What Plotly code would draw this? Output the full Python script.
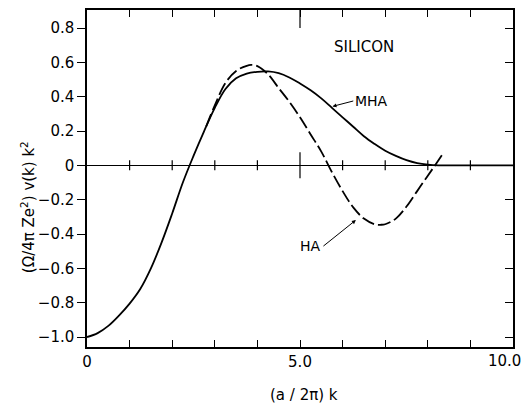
import plotly.graph_objects as go

# Model pseudopotential form factor for silicon, (Ω/4πZe²) v(k) k²
mha_k = [0.0, 0.25, 0.5, 0.75, 1.0, 1.25, 1.5, 1.75, 2.0, 2.25, 2.5, 2.75, 3.0,
         3.25, 3.5, 3.75, 4.0, 4.25, 4.5, 4.75, 5.0, 5.25, 5.5, 5.75, 6.0, 6.25,
         6.5, 6.75, 7.0, 7.25, 7.5, 7.75, 8.0, 8.25, 8.5, 9.0, 9.5, 10.0]
mha_v = [-1.0, -0.977, -0.935, -0.875, -0.805, -0.72, -0.60, -0.45, -0.28, -0.1,
         0.055, 0.2, 0.335, 0.445, 0.507, 0.535, 0.545, 0.547, 0.537, 0.512, 0.477,
         0.437, 0.39, 0.335, 0.28, 0.225, 0.17, 0.125, 0.085, 0.055, 0.03, 0.013,
         0.004, 0.0, 0.0, 0.0, 0.0, 0.0]

ha_k = [2.8, 3.0, 3.25, 3.5, 3.75, 3.85, 4.0, 4.25, 4.5, 4.75, 5.0, 5.25, 5.5,
        5.75, 6.0, 6.25, 6.5, 6.75, 6.9, 7.0, 7.25, 7.5, 7.75, 8.0, 8.17, 8.36]
ha_v = [0.228, 0.35, 0.48, 0.55, 0.58, 0.585, 0.578, 0.53, 0.45, 0.37, 0.28,
        0.18, 0.08, -0.04, -0.15, -0.245, -0.31, -0.343, -0.346, -0.343, -0.31,
        -0.24, -0.15, -0.06, 0.0, 0.07]

x_ticks = list(range(0, 11))
x_labels = ["0", "", "", "", "", "5.0", "", "", "", "", ""]
x_end_label = "10.0"
y_ticks = [-1.0, -0.8, -0.6, -0.4, -0.2, 0.0, 0.2, 0.4, 0.6, 0.8]
y_labels = ["\u22121.0", "\u22120.8", "\u22120.6", "\u22120.4", "\u22120.2",
            "0", "0.2", "0.4", "0.6", "0.8"]

x_range = [0, 10]
y_range = [-1.058, 0.905]

FONT = "DejaVu Sans"
INK = "black"

fig = go.Figure()
fig.add_trace(go.Scatter(x=mha_k, y=mha_v, mode="lines", name="MHA",
                         line=dict(color=INK, width=1.8, shape="spline", smoothing=1.0)))
fig.add_trace(go.Scatter(x=ha_k, y=ha_v, mode="lines", name="HA",
                         line=dict(color=INK, width=1.8, dash="13px,4px",
                                   shape="spline", smoothing=1.0)))
# invisible trace to carry the right-hand axis
fig.add_trace(go.Scatter(x=[x_range[0]], y=[y_range[0]], yaxis="y2", mode="markers",
                         marker=dict(opacity=0), hoverinfo="skip", showlegend=False))

fig.update_layout(
    width=523, height=404,
    margin=dict(l=87, r=10, t=10, b=57, autoexpand=False),
    paper_bgcolor="white", plot_bgcolor="white",
    showlegend=False,
    font=dict(family=FONT, size=15, color=INK),
    xaxis=dict(range=x_range, tickvals=x_ticks, ticktext=x_labels,
               ticks="inside", ticklen=7, tickwidth=1.2, tickcolor=INK,
               showline=True, linecolor=INK, linewidth=1.5, mirror="ticks",
               showgrid=False, zeroline=False, tickfont=dict(size=15),
               automargin=False),
    yaxis=dict(range=y_range, tickvals=y_ticks, ticktext=y_labels,
               ticks="outside", ticklen=8, tickwidth=1.2, tickcolor=INK,
               showline=True, linecolor=INK, linewidth=1.5, mirror=True,
               showgrid=False, zeroline=True, zerolinecolor=INK, zerolinewidth=1.2,
               tickfont=dict(size=15), automargin=False),
    yaxis2=dict(range=y_range, overlaying="y", side="right", tickvals=y_ticks,
                ticks="inside", ticklen=8, tickwidth=1.2, tickcolor=INK,
                showticklabels=False, showgrid=False, zeroline=False, showline=False,
                automargin=False),
)

# tick marks across the zero line, the 5.0 one longer
shapes = []
for k in x_ticks[1:-1]:
    half = 13 if k == 5 else 5
    shapes.append(dict(type="line", xref="x", yref="y", ysizemode="pixel", yanchor=0,
                       x0=k, x1=k, y0=-half, y1=half, line=dict(color=INK, width=1.2)))
# longer top tick at 5.0
shapes.append(dict(type="line", xref="x", yref="paper", ysizemode="pixel", yanchor=1,
                   x0=5, x1=5, y0=0, y1=-18, line=dict(color=INK, width=1.2)))
fig.update_layout(shapes=shapes)

annotations = [
    # last x tick label, kept inside the page edge
    dict(text=x_end_label, x=x_range[1], y=0, xref="x", yref="paper",
         xanchor="right", yanchor="middle", xshift=10, yshift=-14, showarrow=False,
         font=dict(size=15, family=FONT)),
    dict(text="SILICON", x=6.5, y=0.69, xref="x", yref="y", showarrow=False,
         font=dict(size=15, family=FONT)),
    dict(text="MHA", x=5.74, y=0.342, ax=6.25, ay=0.375, axref="x", ayref="y",
         xref="x", yref="y", xanchor="left", showarrow=True, arrowhead=2,
         arrowsize=0.8, arrowwidth=1, arrowcolor=INK, standoff=1,
         font=dict(size=14, family=FONT)),
    dict(text="HA", x=6.33, y=-0.315, ax=5.55, ay=-0.47, axref="x", ayref="y",
         xref="x", yref="y", xanchor="right", showarrow=True, arrowhead=2,
         arrowsize=0.8, arrowwidth=1, arrowcolor=INK, standoff=1,
         font=dict(size=14, family=FONT)),
    dict(text="(a / 2\u03c0) k", x=0.51, y=0, xref="paper", yref="paper",
         yanchor="middle", yshift=-48, showarrow=False, font=dict(size=15, family=FONT)),
    dict(text="(\u03a9/4\u03c0 Ze<sup>2</sup>) v(k) k<sup>2</sup>", x=0, y=0.415,
         xref="paper", yref="paper", xanchor="center", yanchor="middle", xshift=-59,
         textangle=-90, showarrow=False, font=dict(size=15, family=FONT)),
]
fig.update_layout(annotations=annotations)

fig.write_html("out.html")
